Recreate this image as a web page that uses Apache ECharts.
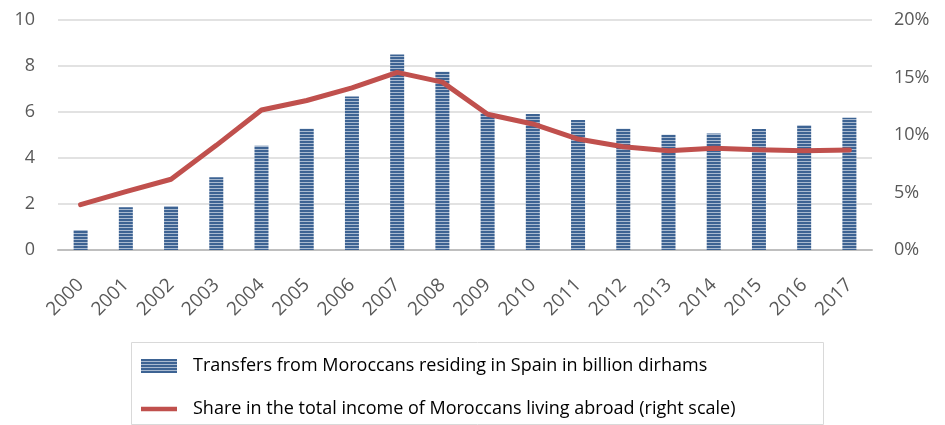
<!DOCTYPE html>
<html>
<head>
<meta charset="utf-8">
<script src="https://cdn.jsdelivr.net/npm/echarts@6/dist/echarts.min.js"></script>
<style>
  html, body { margin: 0; padding: 0; background: #fff; }
  #chart { width: 945px; height: 425px; }
</style>
</head>
<body>
<div id="chart"></div>
<script>
// data
var years = ["2000", "2001", "2002", "2003", "2004", "2005", "2006", "2007", "2008",
    "2009", "2010", "2011", "2012", "2013", "2014", "2015", "2016", "2017"];
var transfers = [0.87, 1.86, 1.91, 3.16, 4.53, 5.27, 6.67, 8.5, 7.75,
    5.94, 5.91, 5.65, 5.27, 5.01, 5.06, 5.26, 5.42, 5.75];
var share = [3.94, 5.07, 6.15, 9.1, 12.17, 13.0, 14.1, 15.45, 14.6,
    11.8, 10.96, 9.65, 8.98, 8.64, 8.84, 8.72, 8.64, 8.7];
var leftTicks = [0, 2, 4, 6, 8, 10];
var rightTicks = [0, 5, 10, 15, 20];

var barName = "Transfers from Moroccans residing in Spain in billion dirhams";
var lineName = "Share in the total income of Moroccans living abroad (right scale)";

// striped fill for the bars
function stripes() {
    var c = document.createElement("canvas");
    c.width = 4;
    c.height = 3;
    var ctx = c.getContext("2d");
    ctx.fillStyle = "#3d6393";
    ctx.fillRect(0, 0, 4, 2);
    ctx.fillStyle = "#a9bad0";
    ctx.fillRect(0, 2, 4, 1);
    return c;
}

var font = "Open Sans";
var textColor = "#595959";

var chart = echarts.init(document.getElementById("chart"));
var option = {
    animation: false,
    grid: { left: 58, right: 73, top: 20, bottom: 175 },
    legend: {
        orient: "vertical",
        left: 136,
        top: 352,
        itemGap: 25,
        itemWidth: 36,
        itemHeight: 14,
        textStyle: { fontFamily: font, fontSize: 18, color: "#000", padding: [0, 0, 0, 11] },
        data: [
            { name: barName, icon: "rect" },
            { name: lineName, icon: "path://M0,0 H38 V5 H0 Z", itemStyle: { color: "#c0504d" } }
        ]
    },
    graphic: [{
        type: "rect",
        left: 129,
        top: 340,
        shape: { width: 692, height: 82 },
        style: { fill: "none", stroke: "#d9d9d9", lineWidth: 1 },
        silent: true
    }],
    xAxis: {
        type: "category",
        data: years,
        axisLine: { lineStyle: { color: "#bfbfbf", width: 2 } },
        axisTick: { show: false },
        axisLabel: {
            rotate: 45,
            interval: 0,
            margin: 32,
            fontFamily: font,
            fontSize: 19,
            color: textColor
        }
    },
    yAxis: [{
        type: "value",
        min: leftTicks[0],
        max: leftTicks[leftTicks.length - 1],
        interval: 2,
        axisLine: { show: false },
        axisTick: { show: false },
        splitLine: { lineStyle: { color: "#d9d9d9", width: 1.5 } },
        axisLabel: { margin: 23, fontFamily: font, fontSize: 18, color: textColor }
    }, {
        type: "value",
        min: rightTicks[0],
        max: rightTicks[rightTicks.length - 1],
        interval: 5,
        axisLine: { show: false },
        axisTick: { show: false },
        splitLine: { show: false },
        axisLabel: {
            margin: 22,
            fontFamily: font,
            fontSize: 18,
            color: textColor,
            formatter: "{value}%"
        }
    }],
    series: [{
        name: barName,
        type: "bar",
        data: transfers,
        barWidth: 14,
        itemStyle: { color: { image: stripes(), repeat: "repeat" } }
    }, {
        name: lineName,
        type: "line",
        yAxisIndex: 1,
        data: share,
        symbol: "none",
        lineStyle: { color: "#c0504d", width: 5, cap: "round" },
        itemStyle: { color: "#c0504d" }
    }]
};
chart.setOption(option);
</script>
</body>
</html>
